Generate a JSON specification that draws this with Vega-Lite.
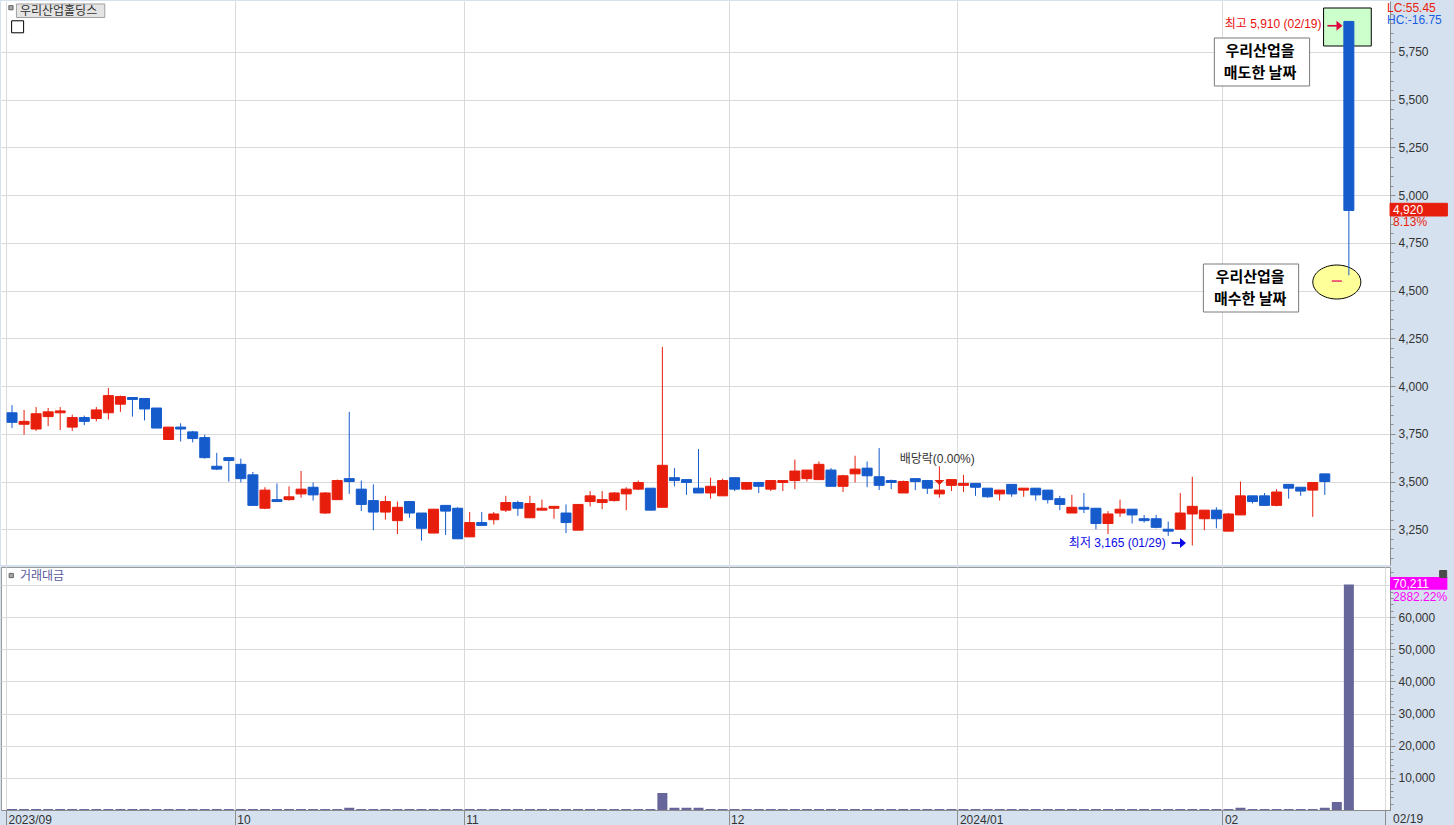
{
  "$schema": "https://vega.github.io/schema/vega-lite/v6.json",
  "background": "#d6e1ef",
  "padding": 0,
  "spacing": 0,
  "config": {
    "view": {"fill": "white", "stroke": null},
    "font": "Liberation Sans, Noto Sans CJK KR",
    "axis": {"labelFont": "Liberation Sans", "labelFontSize": 12, "labelColor": "#333333", "tickColor": "#8c8c8c", "domainColor": "#8c8c8c", "gridColor": "#dadada", "labelOverlap": false, "labelBound": false, "labelFlush": false, "title": null, "tickCount": 500}
  },
  "datasets": {
    "daily": [
      {"idx":0,"open":3860,"high":3900,"low":3780,"close":3810,"vol":300},
      {"idx":1,"open":3800,"high":3875,"low":3745,"close":3815,"vol":300},
      {"idx":2,"open":3775,"high":3890,"low":3765,"close":3855,"vol":300},
      {"idx":3,"open":3840,"high":3885,"low":3790,"close":3865,"vol":300},
      {"idx":4,"open":3860,"high":3890,"low":3770,"close":3870,"vol":300},
      {"idx":5,"open":3785,"high":3850,"low":3765,"close":3835,"vol":300},
      {"idx":6,"open":3835,"high":3845,"low":3795,"close":3815,"vol":300},
      {"idx":7,"open":3830,"high":3890,"low":3815,"close":3875,"vol":300},
      {"idx":8,"open":3860,"high":3990,"low":3825,"close":3950,"vol":300},
      {"idx":9,"open":3905,"high":3950,"low":3865,"close":3945,"vol":300},
      {"idx":10,"open":3940,"high":3940,"low":3840,"close":3930,"vol":300},
      {"idx":11,"open":3935,"high":3935,"low":3820,"close":3880,"vol":300},
      {"idx":12,"open":3885,"high":3885,"low":3780,"close":3780,"vol":300},
      {"idx":13,"open":3720,"high":3785,"low":3720,"close":3785,"vol":300},
      {"idx":14,"open":3785,"high":3805,"low":3710,"close":3775,"vol":300},
      {"idx":15,"open":3760,"high":3765,"low":3705,"close":3725,"vol":300},
      {"idx":16,"open":3730,"high":3745,"low":3620,"close":3625,"vol":300},
      {"idx":17,"open":3580,"high":3650,"low":3560,"close":3565,"vol":300},
      {"idx":18,"open":3625,"high":3625,"low":3500,"close":3610,"vol":300},
      {"idx":19,"open":3590,"high":3620,"low":3495,"close":3515,"vol":300},
      {"idx":20,"open":3535,"high":3550,"low":3375,"close":3375,"vol":300},
      {"idx":21,"open":3360,"high":3470,"low":3355,"close":3455,"vol":300},
      {"idx":22,"open":3405,"high":3490,"low":3395,"close":3395,"vol":300},
      {"idx":23,"open":3405,"high":3475,"low":3400,"close":3420,"vol":300},
      {"idx":24,"open":3435,"high":3555,"low":3415,"close":3460,"vol":300},
      {"idx":25,"open":3470,"high":3495,"low":3400,"close":3430,"vol":300},
      {"idx":26,"open":3335,"high":3445,"low":3330,"close":3440,"vol":300},
      {"idx":27,"open":3405,"high":3510,"low":3405,"close":3505,"vol":300},
      {"idx":28,"open":3515,"high":3865,"low":3435,"close":3500,"vol":700},
      {"idx":29,"open":3460,"high":3505,"low":3345,"close":3380,"vol":300},
      {"idx":30,"open":3400,"high":3485,"low":3245,"close":3340,"vol":300},
      {"idx":31,"open":3340,"high":3425,"low":3300,"close":3395,"vol":300},
      {"idx":32,"open":3295,"high":3395,"low":3225,"close":3365,"vol":300},
      {"idx":33,"open":3395,"high":3395,"low":3310,"close":3335,"vol":300},
      {"idx":34,"open":3335,"high":3335,"low":3190,"close":3255,"vol":300},
      {"idx":35,"open":3230,"high":3355,"low":3230,"close":3355,"vol":300},
      {"idx":36,"open":3375,"high":3375,"low":3220,"close":3345,"vol":300},
      {"idx":37,"open":3360,"high":3365,"low":3200,"close":3200,"vol":300},
      {"idx":38,"open":3210,"high":3340,"low":3210,"close":3285,"vol":300},
      {"idx":39,"open":3285,"high":3340,"low":3270,"close":3270,"vol":300},
      {"idx":40,"open":3300,"high":3340,"low":3275,"close":3330,"vol":300},
      {"idx":41,"open":3350,"high":3425,"low":3340,"close":3390,"vol":300},
      {"idx":42,"open":3390,"high":3400,"low":3320,"close":3360,"vol":300},
      {"idx":43,"open":3310,"high":3425,"low":3310,"close":3385,"vol":300},
      {"idx":44,"open":3350,"high":3405,"low":3350,"close":3360,"vol":300},
      {"idx":45,"open":3360,"high":3370,"low":3305,"close":3370,"vol":300},
      {"idx":46,"open":3335,"high":3380,"low":3230,"close":3285,"vol":300},
      {"idx":47,"open":3245,"high":3380,"low":3245,"close":3380,"vol":300},
      {"idx":48,"open":3395,"high":3450,"low":3370,"close":3425,"vol":300},
      {"idx":49,"open":3390,"high":3450,"low":3355,"close":3405,"vol":300},
      {"idx":50,"open":3400,"high":3445,"low":3395,"close":3440,"vol":300},
      {"idx":51,"open":3435,"high":3470,"low":3350,"close":3460,"vol":300},
      {"idx":52,"open":3460,"high":3505,"low":3455,"close":3495,"vol":300},
      {"idx":53,"open":3465,"high":3465,"low":3350,"close":3350,"vol":300},
      {"idx":54,"open":3365,"high":4205,"low":3365,"close":3585,"vol":5300},
      {"idx":55,"open":3520,"high":3570,"low":3475,"close":3505,"vol":700},
      {"idx":56,"open":3510,"high":3510,"low":3430,"close":3495,"vol":700},
      {"idx":57,"open":3465,"high":3670,"low":3440,"close":3440,"vol":700},
      {"idx":58,"open":3440,"high":3520,"low":3410,"close":3475,"vol":300},
      {"idx":59,"open":3425,"high":3515,"low":3425,"close":3505,"vol":300},
      {"idx":60,"open":3520,"high":3520,"low":3450,"close":3460,"vol":300},
      {"idx":61,"open":3460,"high":3495,"low":3455,"close":3495,"vol":300},
      {"idx":62,"open":3495,"high":3495,"low":3440,"close":3475,"vol":300},
      {"idx":63,"open":3460,"high":3505,"low":3450,"close":3505,"vol":300},
      {"idx":64,"open":3495,"high":3505,"low":3450,"close":3505,"vol":300},
      {"idx":65,"open":3505,"high":3615,"low":3460,"close":3555,"vol":300},
      {"idx":66,"open":3515,"high":3560,"low":3500,"close":3560,"vol":300},
      {"idx":67,"open":3510,"high":3605,"low":3510,"close":3590,"vol":300},
      {"idx":68,"open":3560,"high":3570,"low":3475,"close":3475,"vol":300},
      {"idx":69,"open":3475,"high":3535,"low":3445,"close":3530,"vol":300},
      {"idx":70,"open":3540,"high":3635,"low":3495,"close":3565,"vol":300},
      {"idx":71,"open":3570,"high":3605,"low":3470,"close":3530,"vol":300},
      {"idx":72,"open":3525,"high":3675,"low":3455,"close":3480,"vol":300},
      {"idx":73,"open":3505,"high":3510,"low":3460,"close":3495,"vol":300},
      {"idx":74,"open":3440,"high":3505,"low":3440,"close":3500,"vol":300},
      {"idx":75,"open":3515,"high":3515,"low":3455,"close":3500,"vol":300},
      {"idx":76,"open":3505,"high":3505,"low":3435,"close":3465,"vol":300},
      {"idx":77,"open":3435,"high":3580,"low":3415,"close":3455,"vol":300},
      {"idx":78,"open":3480,"high":3510,"low":3450,"close":3510,"vol":300},
      {"idx":79,"open":3480,"high":3535,"low":3445,"close":3490,"vol":300},
      {"idx":80,"open":3490,"high":3490,"low":3425,"close":3470,"vol":300},
      {"idx":81,"open":3465,"high":3465,"low":3415,"close":3420,"vol":300},
      {"idx":82,"open":3435,"high":3455,"low":3400,"close":3455,"vol":300},
      {"idx":83,"open":3485,"high":3485,"low":3420,"close":3435,"vol":300},
      {"idx":84,"open":3455,"high":3465,"low":3420,"close":3465,"vol":300},
      {"idx":85,"open":3465,"high":3465,"low":3400,"close":3430,"vol":300},
      {"idx":86,"open":3455,"high":3455,"low":3385,"close":3405,"vol":300},
      {"idx":87,"open":3410,"high":3425,"low":3350,"close":3380,"vol":300},
      {"idx":88,"open":3335,"high":3430,"low":3335,"close":3365,"vol":300},
      {"idx":89,"open":3365,"high":3440,"low":3335,"close":3355,"vol":300},
      {"idx":90,"open":3360,"high":3360,"low":3250,"close":3280,"vol":300},
      {"idx":91,"open":3280,"high":3345,"low":3225,"close":3330,"vol":300},
      {"idx":92,"open":3335,"high":3405,"low":3315,"close":3355,"vol":300},
      {"idx":93,"open":3355,"high":3355,"low":3280,"close":3325,"vol":300},
      {"idx":94,"open":3305,"high":3325,"low":3285,"close":3295,"vol":300},
      {"idx":95,"open":3305,"high":3325,"low":3255,"close":3260,"vol":300},
      {"idx":96,"open":3250,"high":3290,"low":3215,"close":3240,"vol":300},
      {"idx":97,"open":3250,"high":3440,"low":3250,"close":3335,"vol":300},
      {"idx":98,"open":3330,"high":3525,"low":3165,"close":3370,"vol":300},
      {"idx":99,"open":3305,"high":3350,"low":3245,"close":3350,"vol":300},
      {"idx":100,"open":3350,"high":3365,"low":3255,"close":3305,"vol":300},
      {"idx":101,"open":3240,"high":3335,"low":3240,"close":3330,"vol":300},
      {"idx":102,"open":3325,"high":3500,"low":3325,"close":3425,"vol":700},
      {"idx":103,"open":3425,"high":3425,"low":3385,"close":3395,"vol":300},
      {"idx":104,"open":3425,"high":3440,"low":3375,"close":3375,"vol":300},
      {"idx":105,"open":3375,"high":3460,"low":3370,"close":3445,"vol":300},
      {"idx":106,"open":3485,"high":3485,"low":3410,"close":3465,"vol":300},
      {"idx":107,"open":3470,"high":3470,"low":3425,"close":3450,"vol":300},
      {"idx":108,"open":3455,"high":3495,"low":3315,"close":3495,"vol":300},
      {"idx":109,"open":3540,"high":3540,"low":3430,"close":3500,"vol":700},
      {"idx":110,"open":4550,"high":4550,"low":4550,"close":4550,"vol":2500},
      {"idx":111,"open":5910,"high":5910,"low":4580,"close":4920,"vol":70211}
    ],
    "notes": [
      {"kind":"titlebox","x":0.366,"x2":7.70,"y":6001.3,"y2":5930.6},
      {"kind":"greenbox","x":108.9,"x2":112.86,"y":5980.3,"y2":5781.3},
      {"kind":"memobox","x":99.83,"x2":107.74,"y":5823.2,"y2":5571.8},
      {"kind":"memobox","x":98.92,"x2":106.83,"y":4639.3,"y2":4387.9},
      {"kind":"pricebox","x":114.42,"x2":119.18,"y":4957.3,"y2":4890.8},
      {"kind":"titletext","x":0.654,"y":5966.2,"label":"우리산업홀딩스"},
      {"kind":"memotext","x":103.62,"y":5755.1,"label":"우리산업을"},
      {"kind":"memotext","x":103.62,"y":5639.9,"label":"매도한 날짜"},
      {"kind":"memotext","x":102.8,"y":4571.3,"label":"우리산업을"},
      {"kind":"memotext","x":102.8,"y":4456.1,"label":"매수한 날짜"},
      {"kind":"hightext","x":108.73,"y":5896.5,"label":"최고 5,910 (02/19)"},
      {"kind":"lowtext","x":95.79,"y":3180.4,"label":"최저 3,165 (01/29)"},
      {"kind":"divtext","x":73.7,"y":3620.4,"label":"배당락(0.00%)"},
      {"kind":"lctext","x":114.17,"y":5981.9,"label":"LC:55.45"},
      {"kind":"hctext","x":114.17,"y":5916.4,"label":"HC:-16.75"},
      {"kind":"pricetext","x":114.67,"y":4920,"label":"4,920"},
      {"kind":"pcttext","x":114.67,"y":4860,"label":"8.13%"},
      {"kind":"higharrow","x":109.23,"x2":110.05,"y":5887.6},
      {"kind":"lowarrow","x":96.29,"x2":97.11,"y":3177.9},
      {"kind":"highhead","x":110.22,"y":5887.6},
      {"kind":"lowhead","x":97.23,"y":3177.9},
      {"kind":"divmark","x":77,"y":3494.8},
      {"kind":"ellipse","x":110,"y":4545},
      {"kind":"icon","x":-0.088,"y":5981.9},
      {"kind":"table","x":0.465,"y":5881.9}
    ],
    "vnotes": [
      {"kind":"magbox","x":114.42,"x2":119.18,"y":72510,"y2":68557},
      {"kind":"voltitle","x":0.654,"y":72727,"label":"거래대금"},
      {"kind":"voltext","x":114.67,"y":70211,"label":"70,211"},
      {"kind":"volpct","x":114.67,"y":66440,"label":"2882.22%"},
      {"kind":"datetext","x":114.67,"y":-2801,"label":"02/19"},
      {"kind":"icon","x":-0.063,"y":72976},
      {"kind":"close","x":118.83,"y":73443}
    ]
  },
  "vconcat": [
    {
      "width": 1389,
      "height": 564,
      "layer": [
        {
          "data": {"name": "notes"},
          "transform": [{"filter": "datum.x2 != null"}],
          "mark": {"type": "rect", "strokeWidth": 1},
          "encoding": {
            "x": {"field": "x", "type": "quantitative", "scale": {"domain": [-0.5, 114], "nice": false, "zero": false},
              "axis": {"values": [-0.5, 18.5, 37.5, 59.5, 78.5, 100.5], "tickCount": 500, "grid": true, "labels": false, "ticks": false, "domain": false, "minExtent": 0, "maxExtent": 0}},
            "x2": {"field": "x2"},
            "y": {"field": "y", "type": "quantitative", "scale": {"domain": [3062.7, 6017], "nice": false, "zero": false},
              "axis": {"orient": "right", "grid": true, "minExtent": 65, "maxExtent": 65, "labelPadding": 3, "tickCount": 500, "labelOverlap": false,
                "values": [3100,3150,3200,3250,3300,3350,3400,3450,3500,3550,3600,3650,3700,3750,3800,3850,3900,3950,4000,4050,4100,4150,4200,4250,4300,4350,4400,4450,4500,4550,4600,4650,4700,4750,4800,4850,4900,4950,5000,5050,5100,5150,5200,5250,5300,5350,5400,5450,5500,5550,5600,5650,5700,5750,5800,5850,5900,5950],
                "labelExpr": "datum.value % 250 === 0 ? format(datum.value, ',') : ''",
                "tickSize": {"condition": {"test": "datum.value % 250 === 0", "value": 5}, "value": 3},
                "gridOpacity": {"condition": {"test": "datum.value % 250 === 0", "value": 1}, "value": 0}}},
            "y2": {"field": "y2"},
            "fill": {"condition": [
              {"test": "datum.kind === 'titlebox'", "value": "#e4e4e4"},
              {"test": "datum.kind === 'greenbox'", "value": "#ccffcc"},
              {"test": "datum.kind === 'pricebox'", "value": "#e81e0c"}], "value": "#ffffff"},
            "stroke": {"condition": [
              {"test": "datum.kind === 'titlebox'", "value": "#a0a0a0"},
              {"test": "datum.kind === 'greenbox'", "value": "#000000"},
              {"test": "datum.kind === 'pricebox'", "value": "#e81e0c"}], "value": "#7a7a7a"}
          }
        },
        {
          "data": {"name": "notes"},
          "transform": [{"filter": "indexof(['highhead','lowhead','divmark','ellipse','icon','table'], datum.kind) >= 0"}],
          "mark": {"type": "point", "filled": true, "opacity": 1, "strokeWidth": 1},
          "encoding": {
            "x": {"field": "x", "type": "quantitative", "title": null},
            "y": {"field": "y", "type": "quantitative", "title": null},
            "shape": {"condition": [
              {"test": "datum.kind === 'ellipse'", "value": "M-1,0A1,0.708,0,1,1,1,0A1,0.708,0,1,1,-1,0Z"},
              {"test": "datum.kind === 'divmark'", "value": "M-1,-0.5L1,-0.5L0,0.5Z"},
              {"test": "datum.kind === 'icon' || datum.kind === 'table'", "value": "square"}], "value": "M-0.6,-1L0.6,0L-0.6,1Z"},
            "size": {"condition": [
              {"test": "datum.kind === 'ellipse'", "value": 2304},
              {"test": "datum.kind === 'icon'", "value": 18},
              {"test": "datum.kind === 'table'", "value": 144}], "value": 100},
            "fill": {"condition": [
              {"test": "datum.kind === 'ellipse'", "value": "#ffff99"},
              {"test": "datum.kind === 'icon'", "value": "#a8a8a8"},
              {"test": "datum.kind === 'table'", "value": "#ffffff"},
              {"test": "datum.kind === 'lowhead'", "value": "#0a0ae6"},
              {"test": "datum.kind === 'highhead'", "value": "#e0003c"}], "value": "#e81e0c"},
            "stroke": {"condition": [
              {"test": "datum.kind === 'ellipse' || datum.kind === 'table'", "value": "#000000"},
              {"test": "datum.kind === 'icon'", "value": "#666666"}], "value": null}
          }
        },
        {
          "data": {"name": "daily"},
          "mark": {"type": "rule", "strokeWidth": 1},
          "encoding": {
            "x": {"field": "idx", "type": "quantitative", "title": null},
            "y": {"field": "low", "type": "quantitative", "title": null},
            "y2": {"field": "high"},
            "color": {"condition": [
              {"test": "datum.open === datum.close && datum.high === datum.low", "value": "#e83070"},
              {"test": "datum.close >= datum.open", "value": "#e81e0c"}], "value": "#155bcc"}
          }
        },
        {
          "data": {"name": "daily"},
          "mark": {"type": "bar", "size": 10, "strokeWidth": 1},
          "encoding": {
            "x": {"field": "idx", "type": "quantitative", "title": null},
            "y": {"field": "open", "type": "quantitative", "title": null},
            "y2": {"field": "close"},
            "fill": {"condition": [
              {"test": "datum.open === datum.close && datum.high === datum.low", "value": "#e83070"},
              {"test": "datum.close >= datum.open", "value": "#e81e0c"}], "value": "#155bcc"},
            "stroke": {"condition": [
              {"test": "datum.open === datum.close && datum.high === datum.low", "value": "#e83070"},
              {"test": "datum.close >= datum.open", "value": "#e81e0c"}], "value": "#155bcc"}
          }
        },
        {
          "data": {"name": "notes"},
          "transform": [{"filter": "datum.kind === 'higharrow' || datum.kind === 'lowarrow'"}],
          "mark": {"type": "rule", "strokeWidth": 1.5},
          "encoding": {
            "x": {"field": "x", "type": "quantitative", "title": null},
            "x2": {"field": "x2"},
            "y": {"field": "y", "type": "quantitative", "title": null},
            "color": {"condition": {"test": "datum.kind === 'lowarrow'", "value": "#0a0ae6"}, "value": "#e0003c"}
          }
        },
        {
          "data": {"name": "notes"},
          "transform": [{"filter": "indexof(['titletext','divtext','lctext','hctext','pricetext','pcttext'], datum.kind) >= 0"}],
          "mark": {"type": "text", "align": "left", "baseline": "middle", "fontSize": 12, "font": "Liberation Sans, Noto Sans CJK KR"},
          "encoding": {
            "x": {"field": "x", "type": "quantitative", "title": null},
            "y": {"field": "y", "type": "quantitative", "title": null},
            "text": {"field": "label"},
            "color": {"condition": [
              {"test": "datum.kind === 'lctext' || datum.kind === 'pcttext'", "value": "#e81e0c"},
              {"test": "datum.kind === 'hctext'", "value": "#1a5fe0"},
              {"test": "datum.kind === 'pricetext'", "value": "#ffffff"}], "value": "#333333"}
          }
        },
        {
          "data": {"name": "notes"},
          "transform": [{"filter": "datum.kind === 'hightext' || datum.kind === 'lowtext'"}],
          "mark": {"type": "text", "align": "right", "baseline": "middle", "fontSize": 12, "font": "Liberation Sans, Noto Sans CJK KR"},
          "encoding": {
            "x": {"field": "x", "type": "quantitative", "title": null},
            "y": {"field": "y", "type": "quantitative", "title": null},
            "text": {"field": "label"},
            "color": {"condition": {"test": "datum.kind === 'lowtext'", "value": "#0a0ae6"}, "value": "#e8100e"}
          }
        },
        {
          "data": {"name": "notes"},
          "transform": [{"filter": "datum.kind === 'memotext'"}],
          "mark": {"type": "text", "align": "center", "baseline": "middle", "fontSize": 15, "fontWeight": "bold", "font": "Noto Sans CJK KR", "color": "#000000"},
          "encoding": {
            "x": {"field": "x", "type": "quantitative", "title": null},
            "y": {"field": "y", "type": "quantitative", "title": null},
            "text": {"field": "label"}
          }
        }
      ]
    },
    {
      "width": 1389,
      "height": 243,
      "view": {"stroke": "#9a9a9a", "fill": "white"},
      "layer": [
        {
          "data": {"name": "daily"},
          "mark": {"type": "bar", "size": 10, "color": "#66669a"},
          "encoding": {
            "x": {"field": "idx", "type": "quantitative", "scale": {"domain": [-0.5, 114], "nice": false, "zero": false},
              "axis": {"values": [-0.5, 18.5, 37.5, 59.5, 78.5, 100.5, 114], "tickCount": 500, "grid": true, "tickSize": 18, "minExtent": 18, "maxExtent": 18,
                "labelAlign": "left", "labelBaseline": "middle", "labelPadding": -9, "labelOffset": 2, "labelOverlap": false,
                "labelExpr": "datum.value < 0 ? '2023/09' : datum.value < 20 ? '10' : datum.value < 40 ? '11' : datum.value < 60 ? '12' : datum.value < 80 ? '2024/01' : datum.value < 110 ? '02' : ''"}},
            "y": {"field": "vol", "type": "quantitative", "scale": {"domain": [0, 75630], "nice": false},
              "axis": {"orient": "right", "grid": true, "minExtent": 65, "maxExtent": 65, "labelPadding": 3, "tickCount": 500, "labelOverlap": false,
                "values": [2000,4000,6000,8000,10000,12000,14000,16000,18000,20000,22000,24000,26000,28000,30000,32000,34000,36000,38000,40000,42000,44000,46000,48000,50000,52000,54000,56000,58000,60000,62000,64000,66000,68000,70000,72000,74000],
                "labelExpr": "datum.value % 10000 === 0 && datum.value < 70000 ? format(datum.value, ',') : ''",
                "tickSize": {"condition": {"test": "datum.value % 10000 === 0", "value": 5}, "value": 3},
                "gridOpacity": {"condition": {"test": "datum.value % 10000 === 0", "value": 1}, "value": 0}}}
          }
        },
        {
          "data": {"name": "vnotes"},
          "transform": [{"filter": "datum.kind === 'magbox'"}],
          "mark": {"type": "rect", "color": "#ff00ff"},
          "encoding": {
            "x": {"field": "x", "type": "quantitative", "title": null},
            "x2": {"field": "x2"},
            "y": {"field": "y", "type": "quantitative", "title": null},
            "y2": {"field": "y2"}
          }
        },
        {
          "data": {"name": "vnotes"},
          "transform": [{"filter": "datum.kind === 'icon' || datum.kind === 'close'"}],
          "mark": {"type": "point", "shape": "square", "filled": true, "opacity": 1, "strokeWidth": 1},
          "encoding": {
            "x": {"field": "x", "type": "quantitative", "title": null},
            "y": {"field": "y", "type": "quantitative", "title": null},
            "size": {"condition": {"test": "datum.kind === 'close'", "value": 49}, "value": 18},
            "fill": {"condition": {"test": "datum.kind === 'close'", "value": "#4a4a4a"}, "value": "#a8a8a8"},
            "stroke": {"condition": {"test": "datum.kind === 'close'", "value": "#4a4a4a"}, "value": "#666666"}
          }
        },
        {
          "data": {"name": "vnotes"},
          "transform": [{"filter": "datum.label != null"}],
          "mark": {"type": "text", "align": "left", "baseline": "middle", "fontSize": 12, "font": "Liberation Sans, Noto Sans CJK KR"},
          "encoding": {
            "x": {"field": "x", "type": "quantitative", "title": null},
            "y": {"field": "y", "type": "quantitative", "title": null},
            "text": {"field": "label"},
            "color": {"condition": [
              {"test": "datum.kind === 'voltitle'", "value": "#5a5a9a"},
              {"test": "datum.kind === 'voltext'", "value": "#ffffff"},
              {"test": "datum.kind === 'volpct'", "value": "#ff00ff"}], "value": "#333333"}
          }
        }
      ]
    }
  ]
}
